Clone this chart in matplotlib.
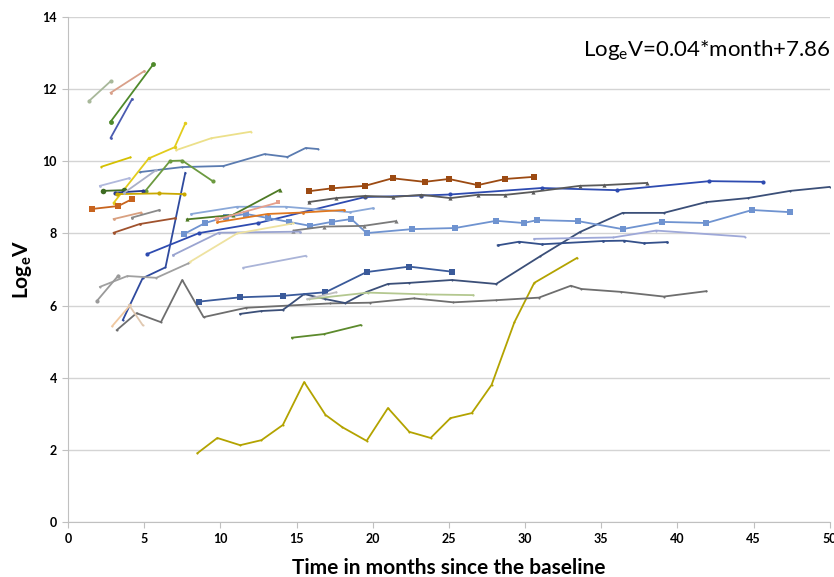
import matplotlib
matplotlib.use("Agg")
import matplotlib.pyplot as plt

# --- Data: months since baseline and log_e(V) for each patient ---
m01 = [8.5, 9.8, 11.3, 12.7, 14.1, 15.5, 16.9, 18.0, 19.6, 21.0, 22.4, 23.8, 25.1, 26.5, 27.8, 29.3, 30.6, 33.4]
v01 = [1.91, 2.33, 2.13, 2.27, 2.69, 3.88, 2.97, 2.63, 2.25, 3.16, 2.50, 2.33, 2.88, 3.02, 3.80, 5.54, 6.63, 7.32]
m02 = [3.2, 4.5, 6.1, 7.5, 8.9, 11.7, 17.2, 19.8, 22.7, 25.3, 28.1, 30.9, 33.0, 33.7, 36.3, 39.1, 41.9]
v02 = [5.32, 5.79, 5.54, 6.71, 5.68, 5.94, 6.06, 6.08, 6.20, 6.09, 6.15, 6.22, 6.55, 6.46, 6.38, 6.25, 6.40]
m03 = [3.6, 4.9, 6.4, 7.7]
v03 = [5.60, 6.76, 7.06, 9.68]
m04 = [4.7, 7.5, 10.2, 12.9, 14.4, 15.6, 16.4]
v04 = [9.70, 9.84, 9.87, 10.20, 10.12, 10.37, 10.34]
m05 = [3.0, 5.3, 7.0, 7.7]
v05 = [8.85, 10.08, 10.39, 11.05]
m06 = [2.2, 4.1]
v06 = [9.85, 10.11]
m07 = [7.1, 9.4, 12.0]
v07 = [10.31, 10.64, 10.82]
m08 = [2.8, 5.6]
v08 = [11.10, 12.69]
m09 = [2.8, 4.2]
v09 = [10.65, 11.72]
m10 = [1.4, 2.8]
v10 = [11.68, 12.22]
m11 = [2.8, 5.0]
v11 = [11.90, 12.50]
m12 = [2.3, 3.7]
v12 = [9.18, 9.20]
m13 = [5.1, 6.7, 7.5, 9.5]
v13 = [9.19, 10.01, 10.02, 9.45]
m14 = [3.1, 4.9]
v14 = [9.13, 9.18]
m15 = [3.2, 6.0, 7.6]
v15 = [9.09, 9.11, 9.09]
m16 = [2.1, 4.0]
v16 = [9.32, 9.53]
m17 = [3.7, 5.8]
v17 = [9.13, 9.76]
m18 = [1.6, 3.3, 4.2]
v18 = [8.68, 8.76, 8.95]
m19 = [3.0, 4.8]
v19 = [8.40, 8.58]
m20 = [4.2, 6.0]
v20 = [8.44, 8.65]
m21 = [3.0, 4.7, 7.0]
v21 = [8.02, 8.26, 8.42]
m22 = [5.2, 8.6, 12.5, 19.5, 23.2, 25.1, 31.1, 36.0, 42.1, 45.6]
v22 = [7.43, 8.01, 8.29, 9.01, 9.05, 9.08, 9.26, 9.20, 9.45, 9.43]
m23 = [15.8, 17.6, 19.5, 21.3, 23.2, 25.1, 26.9, 28.7, 30.5, 33.6, 35.2, 38.0]
v23 = [8.87, 8.98, 9.04, 9.01, 9.07, 8.98, 9.07, 9.07, 9.15, 9.32, 9.34, 9.40]
m24 = [15.8, 17.3, 19.5, 21.3, 23.4, 25.0, 26.9, 28.7, 30.6]
v24 = [9.17, 9.25, 9.32, 9.53, 9.43, 9.51, 9.34, 9.51, 9.57]
m25 = [11.3, 12.7, 14.1, 15.5, 16.9, 18.2, 19.6, 21.0, 22.4, 25.2, 28.1, 31.0, 33.6, 36.4, 39.1, 41.9, 44.6, 47.4, 50.0]
v25 = [5.77, 5.85, 5.88, 6.32, 6.18, 6.07, 6.38, 6.60, 6.63, 6.71, 6.60, 7.37, 8.04, 8.57, 8.57, 8.87, 8.98, 9.18, 9.29]
m26 = [8.6, 11.3, 14.1, 16.9, 19.6, 22.4, 25.2]
v26 = [6.11, 6.23, 6.27, 6.37, 6.93, 7.08, 6.94]
m27 = [7.6, 9.0, 10.4, 11.7, 13.1, 14.5, 15.9, 17.3, 18.6, 19.6, 22.6, 25.4, 28.1, 29.9, 30.8, 33.5, 36.4, 39.0, 41.9, 44.9, 47.4]
v27 = [7.98, 8.29, 8.46, 8.54, 8.43, 8.32, 8.21, 8.32, 8.40, 8.01, 8.12, 8.15, 8.35, 8.29, 8.37, 8.34, 8.12, 8.32, 8.29, 8.65, 8.59]
m28 = [8.1, 11.1, 14.3, 18.5, 20.0]
v28 = [8.54, 8.74, 8.74, 8.59, 8.70]
m29 = [7.8, 10.8, 13.9]
v29 = [8.39, 8.51, 9.21]
m30 = [9.8, 13.1, 15.4, 18.1]
v30 = [8.31, 8.54, 8.58, 8.65]
m31 = [9.8, 13.8]
v31 = [8.39, 8.86]
m32 = [14.8, 16.8, 19.4, 21.5]
v32 = [8.08, 8.19, 8.21, 8.34]
m33 = [6.9, 9.9, 15.2]
v33 = [7.40, 8.02, 8.05]
m34 = [8.0, 11.1, 14.8]
v34 = [7.21, 8.00, 8.28]
m35 = [2.1, 3.9, 5.8, 7.9]
v35 = [6.52, 6.82, 6.77, 7.17]
m36 = [1.9, 3.3]
v36 = [6.13, 6.83]
m37 = [11.5, 15.6]
v37 = [7.05, 7.38]
m38 = [2.9, 4.1]
v38 = [5.43, 6.02]
m39 = [4.0, 4.9]
v39 = [6.02, 5.46]
m40 = [14.7, 16.8, 19.2]
v40 = [5.11, 5.21, 5.46]
m41 = [30.6, 35.8, 38.6, 44.4]
v41 = [7.85, 7.89, 8.08, 7.91]
m42 = [28.2, 29.6, 31.1, 35.1, 36.5, 37.8, 39.3]
v42 = [7.67, 7.77, 7.70, 7.79, 7.80, 7.73, 7.76]
m43 = [15.8, 19.7, 23.5, 26.6]
v43 = [6.18, 6.36, 6.31, 6.29]
m44 = [15.7, 17.6]
v44 = [6.18, 6.37]

x_ticks = [0, 5, 10, 15, 20, 25, 30, 35, 40, 45, 50]
y_ticks = [0, 2, 4, 6, 8, 10, 12, 14]

# --- Styles: (months, values, colour, marker, marker size) ---
lines = [
    (m01, v01, "#b3a300", "o", 1.5),
    (m02, v02, "#6e6e6e", "o", 1.5),
    (m03, v03, "#2f4a9e", "o", 1.5),
    (m04, v04, "#5a7bb0", "o", 1.5),
    (m05, v05, "#e2cc1c", "o", 2.5),
    (m06, v06, "#d4c000", "o", 1.5),
    (m07, v07, "#ece08a", "o", 1.5),
    (m08, v08, "#4f8a2b", "o", 3.5),
    (m09, v09, "#4a5bb0", "o", 2),
    (m10, v10, "#a8b89a", "o", 3),
    (m11, v11, "#d9a08a", "o", 2),
    (m12, v12, "#3d6b22", "o", 4),
    (m13, v13, "#6c9a40", "o", 3),
    (m14, v14, "#283c8c", "o", 3),
    (m15, v15, "#c9a800", "o", 3),
    (m16, v16, "#b0b8dc", "o", 2),
    (m17, v17, "#aab0c8", "o", 2),
    (m18, v18, "#c8641e", "s", 4),
    (m19, v19, "#d9a080", "o", 2),
    (m20, v20, "#8a8a8a", "o", 2),
    (m21, v21, "#a0522d", "o", 2),
    (m22, v22, "#2e4bb0", "o", 3),
    (m23, v23, "#5a5a5a", "^", 3),
    (m24, v24, "#9c4a12", "s", 4),
    (m25, v25, "#3b4f78", "o", 1.5),
    (m26, v26, "#3a5a9a", "s", 4),
    (m27, v27, "#6f93d0", "s", 4),
    (m28, v28, "#8aa8d8", "o", 2),
    (m29, v29, "#4e7a25", "^", 3),
    (m30, v30, "#e07820", "o", 2),
    (m31, v31, "#e6a08c", "s", 3),
    (m32, v32, "#7a7a7a", "^", 3),
    (m33, v33, "#9aa4d0", "o", 2),
    (m34, v34, "#eee2a0", "o", 1.5),
    (m35, v35, "#a0a0a0", "o", 1.5),
    (m36, v36, "#9a9a9a", "o", 3),
    (m37, v37, "#aab4d8", "o", 1.5),
    (m38, v38, "#f0c8a0", "o", 1.5),
    (m39, v39, "#e0c8b0", "o", 1.5),
    (m40, v40, "#5c8a2c", "o", 1.5),
    (m41, v41, "#9ea8d8", "o", 1.5),
    (m42, v42, "#34508a", "o", 2),
    (m43, v43, "#b4c890", "o", 1.5),
    (m44, v44, "#c0c0c0", "o", 1.5),
]

plt.rcParams["font.family"] = ["Lato", "DejaVu Sans"]
plt.rcParams["mathtext.fontset"] = "custom"
plt.rcParams["mathtext.rm"] = "Lato"
plt.rcParams["mathtext.bf"] = "Lato:bold"
plt.rcParams["mathtext.default"] = "regular"

fig = plt.figure(figsize=(8.34, 5.77), dpi=100)
ax = fig.add_axes([0.0815, 0.0953, 0.9135, 0.8752])

for mx, vy, col, mk, ms in lines:
    ax.plot(mx, vy, color=col, lw=1.3, marker=mk, markersize=ms,
            markeredgewidth=0, solid_joinstyle="round")

ax.set_xlim(0, 50)
ax.set_ylim(0, 14)
ax.set_xticks(x_ticks)
ax.set_yticks(y_ticks)
ax.set_xticklabels([str(t) for t in x_ticks], fontweight="bold", fontsize=9)
ax.set_yticklabels([str(t) for t in y_ticks], fontweight="bold", fontsize=9)
ax.yaxis.grid(True, color="#d4d4d4", lw=1)
ax.set_axisbelow(True)
for s in ["top", "right"]:
    ax.spines[s].set_visible(False)
ax.spines["left"].set_color("#c0c0c0")
ax.spines["bottom"].set_color("#c0c0c0")
ax.tick_params(axis="both", length=4, color="#c0c0c0", pad=4)

ax.set_xlabel("Time in months since the baseline", fontsize=15, fontweight="bold", labelpad=9)
ax.set_ylabel(r"Log$_{e}$V", fontsize=15, fontweight="bold", labelpad=6)

ax.text(0.676, 0.935, r"Log$_{e}$V=0.04*month+7.86", transform=ax.transAxes,
        fontsize=16, ha="left", va="center")

fig.savefig("out.png", dpi=100)
